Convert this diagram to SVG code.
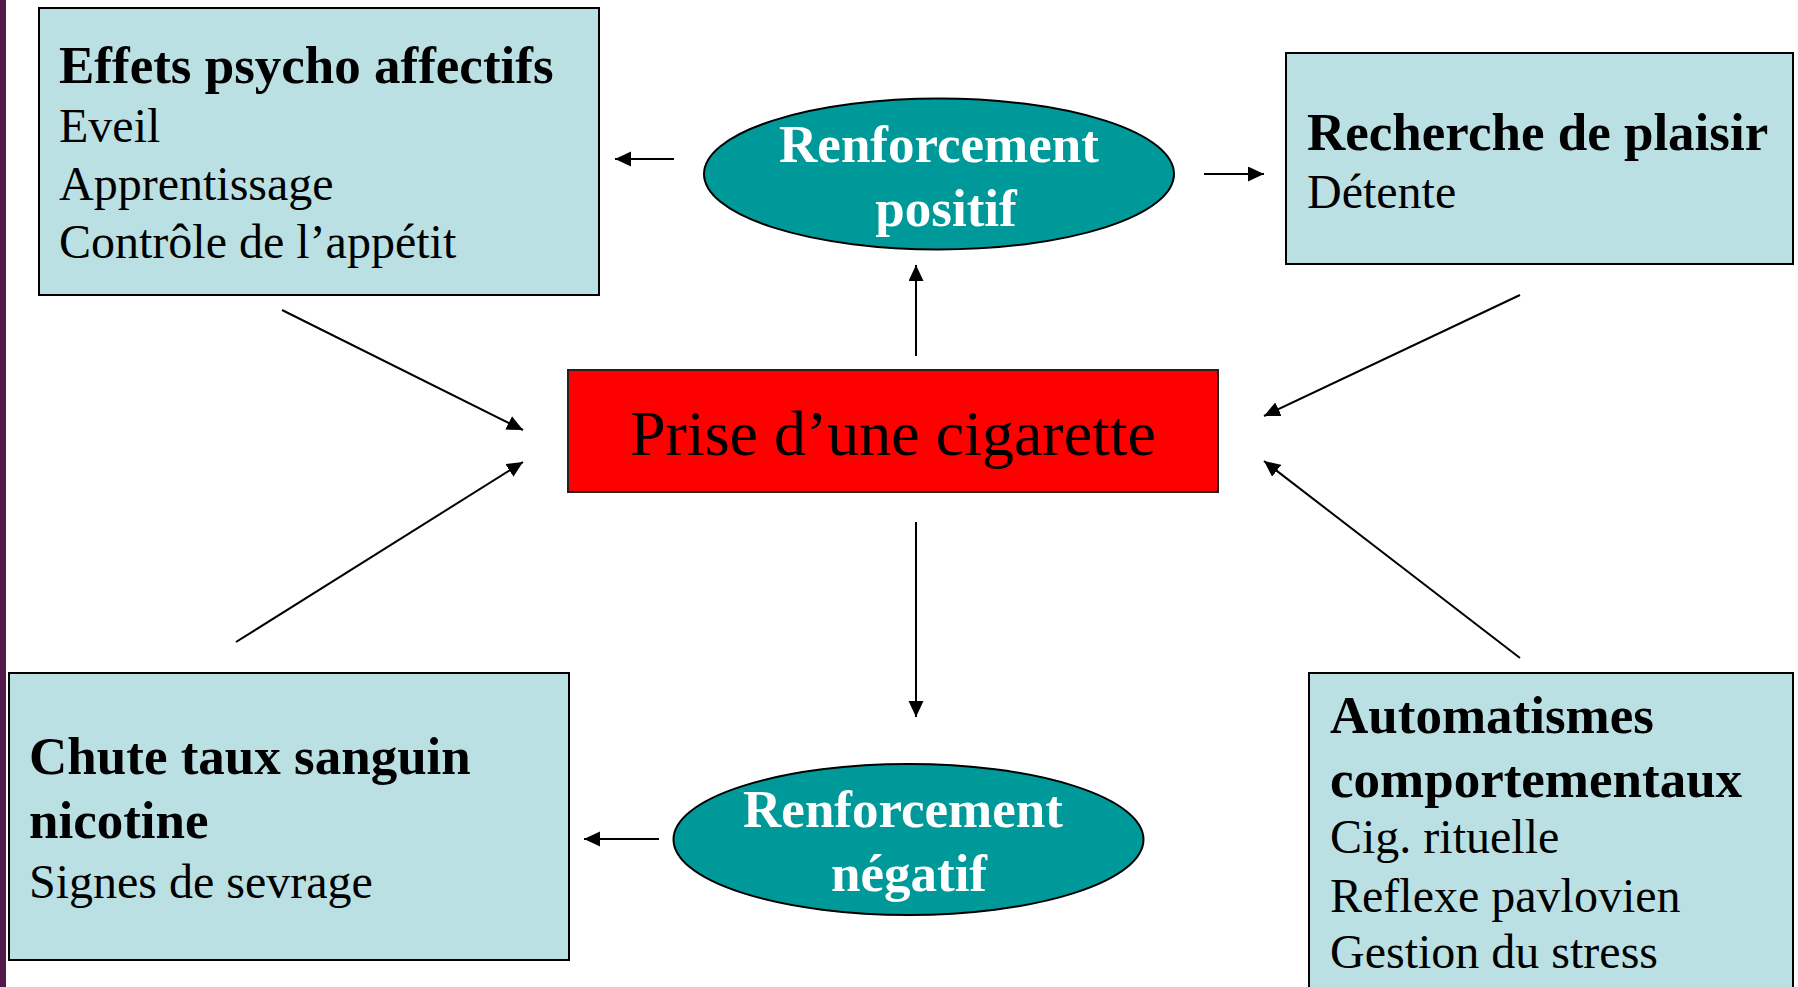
<svg xmlns="http://www.w3.org/2000/svg" width="1798" height="987" viewBox="0 0 1798 987">
<style>
.box{fill:#BBE0E3;stroke:#000;stroke-width:2}
.ell{fill:#009999;stroke:#000;stroke-width:2}
.b{font-family:"Liberation Serif","Times New Roman",serif;font-weight:bold;font-size:53px;fill:#000}
.r{font-family:"Liberation Serif","Times New Roman",serif;font-size:48px;fill:#000}
.w{font-family:"Liberation Serif","Times New Roman",serif;font-weight:bold;font-size:53px;fill:#fff;text-anchor:middle}
.c{stroke:#000;stroke-width:2;fill:none;marker-end:url(#ah)}
</style>
<defs>
<marker id="ah" markerUnits="userSpaceOnUse" markerWidth="18" markerHeight="16" refX="16" refY="7.5" orient="auto">
<path d="M0,0 L16,7.5 L0,15 z" fill="#000"/>
</marker>
</defs>
<rect x="0" y="0" width="1798" height="987" fill="#fff"/>
<rect x="0" y="0" width="6" height="987" fill="#521848"/>

<g id="connectors">
<line class="c" x1="916" y1="356" x2="916" y2="265"/>
<line class="c" x1="916" y1="522" x2="916" y2="717"/>
<line class="c" x1="674" y1="159" x2="615" y2="159"/>
<line class="c" x1="1204" y1="174" x2="1264" y2="174"/>
<line class="c" x1="659" y1="839" x2="584" y2="839"/>
<line class="c" x1="282" y1="310" x2="523" y2="430"/>
<line class="c" x1="236" y1="642" x2="523" y2="462"/>
<line class="c" x1="1520" y1="295" x2="1264" y2="416"/>
<line class="c" x1="1520" y1="658" x2="1264" y2="461"/>
</g>

<g id="effets">
<rect class="box" x="39" y="8" width="560" height="287"/>
<text class="b" x="59" y="83">Effets psycho affectifs</text>
<text class="r" x="59" y="142">Eveil</text>
<text class="r" x="59" y="200">Apprentissage</text>
<text class="r" x="59" y="258">Contrôle de l’appétit</text>
</g>

<g id="renforcement-positif">
<ellipse class="ell" cx="939" cy="174" rx="235" ry="75.5"/>
<text class="w" x="939" y="162">Renforcement</text>
<text class="w" x="946" y="226">positif</text>
</g>

<g id="recherche">
<rect class="box" x="1286" y="53" width="507" height="211"/>
<text class="b" x="1307" y="150">Recherche de plaisir</text>
<text class="r" x="1307" y="208">Détente</text>
</g>

<g id="prise">
<rect x="568" y="370" width="650" height="122" fill="#FF0000" stroke="#222" stroke-width="2"/>
<text x="893" y="455" text-anchor="middle" font-family="Liberation Serif, Times New Roman, serif" font-size="64" fill="#000">Prise d’une cigarette</text>
</g>

<g id="chute">
<rect class="box" x="9" y="673" width="560" height="287"/>
<text class="b" x="29" y="774">Chute taux sanguin</text>
<text class="b" x="29" y="838">nicotine</text>
<text class="r" x="29" y="898">Signes de sevrage</text>
</g>

<g id="renforcement-negatif">
<ellipse class="ell" cx="908.5" cy="839.5" rx="235" ry="75.5"/>
<text class="w" x="903" y="827">Renforcement</text>
<text class="w" x="909" y="891">négatif</text>
</g>

<g id="automatismes">
<rect class="box" x="1309" y="673" width="484" height="340"/>
<text class="b" x="1330" y="733">Automatismes</text>
<text class="b" x="1330" y="797">comportementaux</text>
<text class="r" x="1330" y="853">Cig. rituelle</text>
<text class="r" x="1330" y="912">Reflexe pavlovien</text>
<text class="r" x="1330" y="968">Gestion du stress</text>
</g>
</svg>
